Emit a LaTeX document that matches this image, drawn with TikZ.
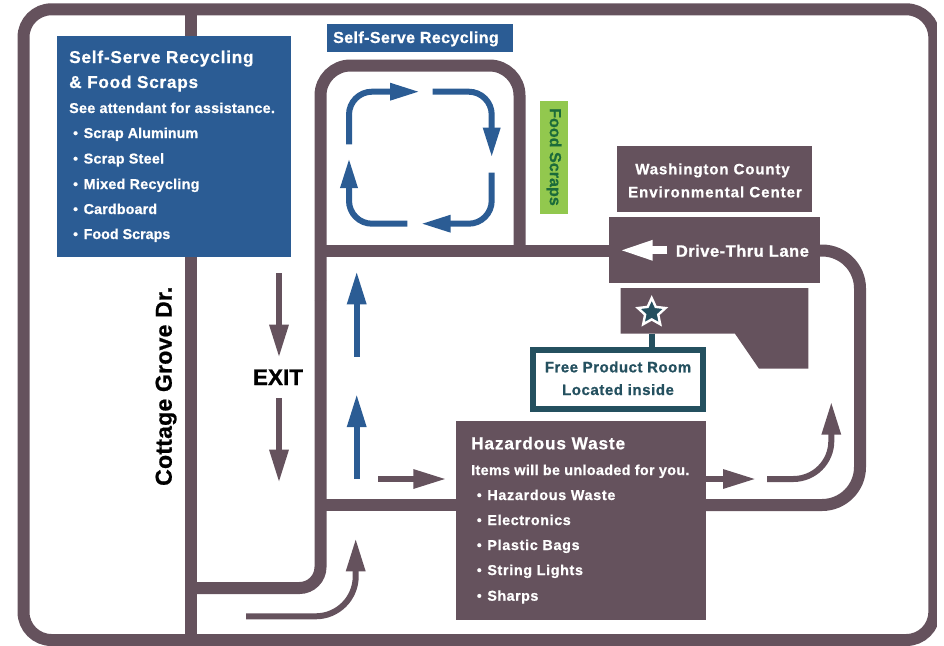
\documentclass[tikz,border=0pt]{standalone}
\usepackage{fontspec}
\setmainfont{Liberation Sans}[BoldFeatures={FakeBold=0.8}]
\usetikzlibrary{arrows.meta,shapes.geometric}
\definecolor{road}{HTML}{65525D}
\definecolor{bluebox}{HTML}{2B5C94}
\definecolor{teal}{HTML}{24505F}
\definecolor{lime}{HTML}{92C84E}
\definecolor{leaf}{HTML}{1B6B3A}
\newcommand{\LS}[2]{{\addfontfeature{LetterSpace=#1}#2}}
\newcommand{\bul}{\makebox[10.5pt][l]{\raisebox{0.3pt}{\scalebox{0.95}{\textbullet}}}}
\tikzset{
  roadline/.style={draw=road,line width=12pt},
  boxfill/.style={fill=#1,draw=none,inner sep=0pt,outer sep=0pt,anchor=north west},
  lab/.style={text=white,font=\bfseries,inner sep=0pt,anchor=base west},
  headtxt/.style={lab,font=\bfseries\fontsize{17.2}{20}\selectfont},
  subtxt/.style={lab,font=\bfseries\fontsize{14.3}{17}\selectfont},
  flow/.style={line width=6pt,-{Triangle[length=33pt,width=18pt]}},
  loopflow/.style={draw=bluebox,line width=6pt,-{Triangle[length=30pt,width=16pt]}},
}
\begin{document}
\begin{tikzpicture}[x=1pt,y=-1pt]
\useasboundingbox (0,0) rectangle (944,645);
% roads
\draw[roadline,rounded corners=28pt] (23.5,9.3) rectangle (934.3,640);
\fill[white] (937,0) rectangle (944,645);
\draw[roadline] (191,9) -- (191,640);
\draw[roadline,rounded corners=21pt] (191,588) -- (320.5,588) -- (320.5,300);
\draw[roadline,rounded corners=30pt] (320.5,300) -- (320.5,65.5) -- (519.5,65.5) -- (519.5,256);
\draw[roadline] (320.5,250.5) -- (615,250.5);
\draw[roadline] (320.5,505) -- (460,505);
\draw[roadline,rounded corners=38pt] (700,505) -- (860,505) -- (860,250.5) -- (815,250.5);
% blue panel
\node[boxfill=bluebox,minimum width=234pt,minimum height=221pt] (panel) at (57,36) {};
\node[headtxt] (p1) at (69,63) {\LS{4.6}{Self-Serve Recycling}};
\node[headtxt] (p2) at (69,88) {\LS{4.4}{\&\ Food Scraps}};
\node[subtxt] (p3) at (69,113) {\LS{2.2}{See attendant for assistance.}};
\node[subtxt] (p4) at (73,138) {\bul \LS{0.5}{Scrap Aluminum}};
\node[subtxt] (p5) at (73,163.5) {\bul \LS{2}{Scrap Steel}};
\node[subtxt] (p6) at (73,189) {\bul \LS{2}{Mixed Recycling}};
\node[subtxt] (p7) at (73,214) {\bul \LS{1}{Cardboard}};
\node[subtxt] (p8) at (73,239) {\bul Food Scraps};
% self-serve tag
\node[boxfill=bluebox,minimum width=186pt,minimum height=28pt] (tag) at (327,24) {};
\node[lab,font=\bfseries\fontsize{16}{19}\selectfont] (tagt) at (333,43) {\LS{2.5}{Self-Serve Recycling}};
% food scraps tag
\node[boxfill=lime,minimum width=28pt,minimum height=113pt] (food) at (540,101) {};
\node[text=leaf,font=\bfseries\fontsize{16}{19}\selectfont,rotate=-90,inner sep=0pt] (foodt) at (554,157) {\LS{0.5}{Food Scraps}};
% loop arrows
\draw[loopflow,rounded corners=23pt] (349,144.3) -- (349,91.7) -- (420,91.7);
\draw[loopflow,rounded corners=23pt] (432.7,91.7) -- (491.7,91.7) -- (491.7,157.7);
\draw[loopflow,rounded corners=23pt] (491.7,172.7) -- (491.7,223.7) -- (420.7,223.7);
\draw[loopflow,rounded corners=23pt] (407.3,223.7) -- (349,223.7) -- (349,158);
% centre
\node[boxfill=road,minimum width=195pt,minimum height=66pt] (centre) at (617,146.3) {};
\node[lab,anchor=base,font=\bfseries\fontsize{15}{18}\selectfont] (c1) at (712.5,174.3) {\LS{5.9}{Washington County}};
\node[lab,anchor=base,font=\bfseries\fontsize{15}{18}\selectfont] (c2) at (715,197.3) {\LS{6.6}{Environmental Center}};
% drive-thru
\node[boxfill=road,minimum width=211pt,minimum height=66.3pt] (drive) at (609,217) {};
\node[lab,font=\bfseries\fontsize{16.5}{19}\selectfont] (dt) at (675.7,256.7) {\LS{3}{Drive-Thru Lane}};
\draw[white,line width=8pt,-{Triangle[length=34pt,width=18pt]}] (667.3,250.3) -- (618.7,250.3);
% building
\draw[fill=road,draw=none] (620.7,288) -- (808.3,288) -- (808.3,368.7) -- (759,368.7) -- (735,333.7) -- (620.7,333.7) -- cycle;
% free product
\node[draw=teal,line width=6pt,fill=white,inner sep=0pt,outer sep=0pt,anchor=north west,minimum width=170.3pt,minimum height=58.7pt] (free) at (533,350) {};
\node[star,star points=5,star point ratio=2.1,fill=teal,draw=white,line width=2.4pt,minimum size=29pt,inner sep=0pt] (starm) at (651.7,312.5) {};
\draw[teal,line width=6pt] (651.7,333.7) -- (651.7,348);
\node[lab,anchor=base,text=teal,font=\bfseries\fontsize{15}{18}\selectfont] (f1) at (618,372.3) {\LS{3.4}{Free Product Room}};
\node[lab,anchor=base,text=teal,font=\bfseries\fontsize{15}{18}\selectfont] (f2) at (618,395) {\LS{3.8}{Located inside}};
% hazardous
\node[boxfill=road,minimum width=249.7pt,minimum height=199pt] (haz) at (456,421) {};
\node[headtxt] (h1) at (471,449.3) {\LS{5}{Hazardous Waste}};
\node[subtxt] (h2) at (471,475) {\LS{2.6}{Items will be unloaded for you.}};
\node[subtxt] (h3) at (476.7,500) {\bul \LS{5}{Hazardous Waste}};
\node[subtxt] (h4) at (476.7,525) {\bul \LS{4.4}{Electronics}};
\node[subtxt] (h5) at (476.7,550) {\bul \LS{5}{Plastic Bags}};
\node[subtxt] (h6) at (476.7,575) {\bul \LS{4.7}{String Lights}};
\node[subtxt] (h7) at (476.7,600.7) {\bul \LS{3.5}{Sharps}};
% flow arrows
\draw[flow,draw=bluebox] (356.7,356.7) -- (356.7,271.3);
\draw[flow,draw=bluebox] (356.7,479) -- (356.7,394);
\draw[flow,draw=road] (279,273.3) -- (279,357.7);
\draw[flow,draw=road] (279,398) -- (279,482.7);
\draw[flow,draw=road] (378.3,479) -- (446.3,479);
\draw[flow,draw=road] (705.7,479) -- (756,479);
\draw[flow,draw=road,rounded corners=38pt] (767,479) -- (831.3,479) -- (831.3,401.7);
\draw[flow,draw=road,rounded corners=40pt] (246,616.3) -- (355.7,616.3) -- (355.7,538.3);
% labels
\node[text=black,font=\bfseries\fontsize{22.5}{26}\selectfont,inner sep=0pt,anchor=base] (exit) at (278,385) {EXIT};
\node[text=black,font=\bfseries\fontsize{23}{26}\selectfont,inner sep=0pt,anchor=base west,rotate=90] (road) at (171.7,486) {\LS{1.1}{Cottage Grove Dr.}};
\end{tikzpicture}
\end{document}
